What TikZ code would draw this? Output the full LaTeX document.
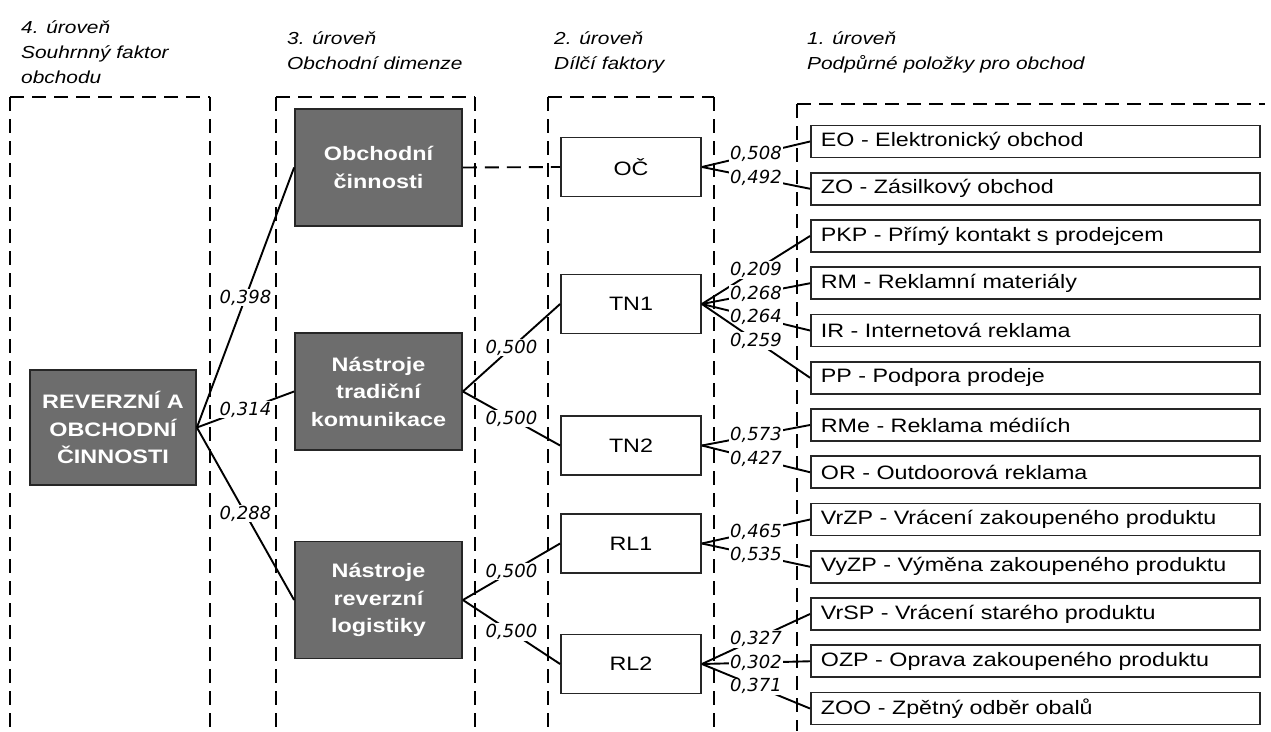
\documentclass[tikz,border=0pt]{standalone}
\usepackage{fontspec}
\setmainfont{Liberation Sans}[FakeStretch=1.2]
\newfontfamily\numfont{DejaVu Sans}
\definecolor{boxgray}{RGB}{109,109,109}
\begin{document}
\begin{tikzpicture}[x=1pt,y=-1pt,
  col/.style={draw=black, line width=2.3pt, dash pattern=on 14pt off 8pt},
  gbox/.style={draw=black!85, line width=1.8pt, fill=boxgray, text=white,
    font=\fontsize{19.5}{27.5}\selectfont\bfseries, align=center,
    minimum width=167pt, minimum height=117pt, inner sep=0pt},
  wbox/.style={draw=black!85, line width=1.8pt, fill=white,
    font=\fontsize{19.4}{23}\selectfont, minimum width=140pt, minimum height=59pt, inner sep=0pt},
  ibox/.style={draw=black!85, line width=1.8pt, fill=white,
    font=\fontsize{19.4}{23}\selectfont, anchor=west, text width=429pt, align=left,
    inner xsep=10pt, inner ysep=0pt, minimum height=32pt},
  hd/.style={anchor=base west, inner sep=0pt, font=\fontsize{17.4}{25}\selectfont\itshape},
  conn/.style={draw=black, line width=1.9pt},
  wt/.style={midway, fill=white, inner sep=1pt, font=\numfont\fontsize{18}{20}\selectfont\itshape},
]
\useasboundingbox (0,0) rectangle (1271,731);

% headings
\node[hd] (h4a) at (21,33) {4. úroveň};
\node[hd] (h4b) at (21,58) {Souhrnný faktor};
\node[hd] (h4c) at (21,83) {obchodu};
\node[hd] (h3a) at (287,44) {3. úroveň};
\node[hd] (h3b) at (287,69) {Obchodní dimenze};
\node[hd] (h2a) at (554,44) {2. úroveň};
\node[hd] (h2b) at (554,69) {Dílčí faktory};
\node[hd] (h1a) at (807,44) {1. úroveň};
\node[hd] (h1b) at (807,69) {Podpůrné položky pro obchod};

% dashed columns
\draw[col] (10,97) -- (210,97);
\draw[col] (10,97) -- (10,731);
\draw[col] (210,97) -- (210,731);
\draw[col] (276,97) -- (475,97);
\draw[col] (276,97) -- (276,731);
\draw[col] (475,97) -- (475,731);
\draw[col] (548,97) -- (714,97);
\draw[col] (548,97) -- (548,731);
\draw[col] (714,97) -- (714,731);
\draw[col] (797,104) -- (1265,104);
\draw[col] (797,104) -- (797,731);

% level 4 and 3
\node[gbox, minimum width=166pt, minimum height=115pt] (main) at (113,427.5) {REVERZNÍ A\\OBCHODNÍ\\ČINNOSTI};
\node[gbox] (obc) at (378.5,167.5) {Obchodní\\činnosti};
\node[gbox] (ntk) at (378.5,391.5) {Nástroje\\tradiční\\komunikace};
\node[gbox] (nrl) at (378.5,600) {Nástroje\\reverzní\\logistiky};

% level 2
\node[wbox] (oc) at (631,167) {OČ};
\node[wbox] (tn1) at (631,304) {TN1};
\node[wbox] (tn2) at (631,445.5) {TN2};
\node[wbox] (rl1) at (631,543.5) {RL1};
\node[wbox] (rl2) at (631,664) {RL2};

% level 1
\node[ibox] (eo) at (810,141.5) {EO - Elektronický obchod};
\node[ibox] (zo) at (810,188.75) {ZO - Zásilkový obchod};
\node[ibox] (pkp) at (810,236) {PKP - Přímý kontakt s prodejcem};
\node[ibox] (rm) at (810,283.25) {RM - Reklamní materiály};
\node[ibox] (ir) at (810,330.5) {IR - Internetová reklama};
\node[ibox] (pp) at (810,377.75) {PP - Podpora prodeje};
\node[ibox] (rme) at (810,425) {RMe - Reklama médiích};
\node[ibox] (or) at (810,472.25) {OR - Outdoorová reklama};
\node[ibox] (vrzp) at (810,519.5) {VrZP - Vrácení zakoupeného produktu};
\node[ibox] (vyzp) at (810,566.75) {VyZP - Výměna zakoupeného produktu};
\node[ibox] (vrsp) at (810,614) {VrSP - Vrácení starého produktu};
\node[ibox] (ozp) at (810,661.25) {OZP - Oprava zakoupeného produktu};
\node[ibox] (zoo) at (810,708.5) {ZOO - Zpětný odběr obalů};

% connectors
\draw[conn] (main.east) -- node[wt]{0,398} (obc.west);
\draw[conn] (main.east) -- node[wt]{0,314} (ntk.west);
\draw[conn] (main.east) -- node[wt]{0,288} (nrl.west);
\draw[conn, dash pattern=on 14pt off 8pt] (obc.east) -- (oc.west);
\draw[conn] (ntk.east) -- node[wt]{0,500} (tn1.west);
\draw[conn] (ntk.east) -- node[wt]{0,500} (tn2.west);
\draw[conn] (nrl.east) -- node[wt]{0,500} (rl1.west);
\draw[conn] (nrl.east) -- node[wt]{0,500} (rl2.west);
\draw[conn] (oc.east) -- node[wt]{0,508} (eo.west);
\draw[conn] (oc.east) -- node[wt]{0,492} (zo.west);
\draw[conn] (tn1.east) -- node[wt]{0,209} (pkp.west);
\draw[conn] (tn1.east) -- node[wt]{0,268} (rm.west);
\draw[conn] (tn1.east) -- node[wt]{0,264} (ir.west);
\draw[conn] (tn1.east) -- node[wt]{0,259} (pp.west);
\draw[conn] (tn2.east) -- node[wt]{0,573} (rme.west);
\draw[conn] (tn2.east) -- node[wt]{0,427} (or.west);
\draw[conn] (rl1.east) -- node[wt]{0,465} (vrzp.west);
\draw[conn] (rl1.east) -- node[wt]{0,535} (vyzp.west);
\draw[conn] (rl2.east) -- node[wt]{0,327} (vrsp.west);
\draw[conn] (rl2.east) -- node[wt]{0,302} (ozp.west);
\draw[conn] (rl2.east) -- node[wt]{0,371} (zoo.west);
\end{tikzpicture}
\end{document}
